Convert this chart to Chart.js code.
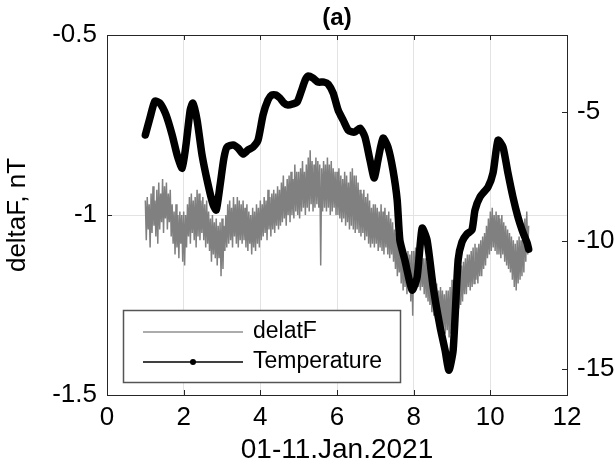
<!DOCTYPE html>
<html>
<head>
<meta charset="utf-8">
<script src="https://cdn.jsdelivr.net/npm/chart.js@4.4.1/dist/chart.umd.min.js"></script>
<style>
  html, body { margin: 0; padding: 0; background: #fff; }
  #wrap { width: 615px; height: 471px; }
</style>
</head>
<body>
<div id="wrap"><canvas id="deltaChart" width="615" height="471"></canvas></div>
<script>
// Tick values on the three axes
const xTickValues = [0, 2, 4, 6, 8, 10, 12];
const leftTickValues = [-1.5, -1, -0.5];
const rightTickValues = [-15, -10, -5];

// deltaF series, sampled every 0.025 day starting at day 1
const dfStart = 1;
const dfStep = 0.025;
const dfValues = [
    -0.96, -1.07, -0.95, -1.04, -0.97, -1.09, -0.94, -1.05, -0.92, -1.03, -0.96, -1.06, -0.93, -1.08, -0.91, -1.04, -0.94, -1.02, -0.90, -1.05,
    -0.92, -1.01, -0.91, -1.04, -0.94, -1.02, -0.93, -1.06, -0.97, -1.08, -0.99, -1.11, -0.97, -1.09, -1.00, -1.12, -0.99, -1.08, -1.00, -1.13,
    -0.99, -1.14, -1.00, -1.09, -0.97, -1.06, -0.95, -1.08, -0.94, -1.05, -0.96, -1.07, -0.95, -1.09, -0.93, -1.06, -0.94, -1.07, -0.96, -1.05,
    -0.95, -1.07, -0.97, -1.09, -0.96, -1.08, -0.99, -1.10, -1.01, -1.13, -1.00, -1.11, -1.02, -1.12, -1.01, -1.14, -1.03, -1.12, -1.02, -1.17,
    -1.01, -1.15, -1.03, -1.10, -1.00, -1.09, -0.97, -1.08, -0.96, -1.07, -0.98, -1.09, -0.95, -1.06, -0.97, -1.08, -0.95, -1.09, -0.96, -1.07,
    -0.97, -1.08, -0.96, -1.07, -0.98, -1.09, -0.97, -1.10, -0.99, -1.08, -1.00, -1.11, -0.98, -1.09, -0.99, -1.10, -0.97, -1.08, -0.98, -1.09,
    -0.96, -1.07, -0.97, -1.06, -0.95, -1.05, -0.96, -1.07, -0.93, -1.04, -0.95, -1.06, -0.94, -1.04, -0.93, -1.05, -0.94, -1.03, -0.92, -1.04,
    -0.93, -1.03, -0.91, -1.02, -0.89, -1.01, -0.92, -1.03, -0.90, -1.00, -0.89, -1.02, -0.88, -1.00, -0.90, -1.01, -0.86, -0.99, -0.88, -1.00,
    -0.88, -1.01, -0.87, -0.99, -0.85, -0.98, -0.88, -1.00, -0.86, -0.98, -0.84, -0.99, -0.82, -0.97, -0.85, -0.99, -0.86, -0.98, -0.84, -0.97,
    -0.85, -0.98, -0.86, -1.14, -0.87, -0.99, -0.85, -0.98, -0.86, -0.99, -0.84, -0.98, -0.86, -1.00, -0.85, -0.99, -0.87, -0.98, -0.88, -1.00,
    -0.88, -1.00, -0.87, -1.01, -0.89, -1.02, -0.90, -1.01, -0.88, -1.03, -0.89, -1.02, -0.91, -1.04, -0.88, -1.03, -0.87, -1.04, -0.89, -1.05,
    -0.89, -1.04, -0.91, -1.05, -0.93, -1.06, -0.94, -1.05, -0.93, -1.07, -0.95, -1.06, -0.94, -1.08, -0.96, -1.09, -0.98, -1.08, -0.97, -1.09,
    -0.97, -1.08, -0.98, -1.10, -0.99, -1.09, -0.97, -1.10, -0.99, -1.11, -0.98, -1.09, -1.00, -1.11, -0.99, -1.12, -1.01, -1.11, -1.02, -1.13,
    -1.04, -1.15, -1.05, -1.17, -1.07, -1.16, -1.08, -1.19, -1.09, -1.21, -1.10, -1.20, -1.11, -1.22, -1.10, -1.21, -1.11, -1.24, -1.10, -1.28,
    -1.10, -1.20, -1.09, -1.19, -1.11, -1.20, -1.10, -1.21, -1.11, -1.20, -1.12, -1.22, -1.12, -1.23, -1.13, -1.24, -1.15, -1.25, -1.16, -1.27,
    -1.17, -1.28, -1.18, -1.29, -1.19, -1.30, -1.21, -1.31, -1.20, -1.30, -1.21, -1.32, -1.22, -1.33, -1.21, -1.32, -1.21, -1.34, -1.20, -1.33,
    -1.18, -1.29, -1.18, -1.28, -1.17, -1.27, -1.16, -1.26, -1.15, -1.25, -1.14, -1.24, -1.13, -1.22, -1.12, -1.22, -1.11, -1.20, -1.11, -1.21,
    -1.10, -1.20, -1.09, -1.19, -1.08, -1.18, -1.09, -1.19, -1.08, -1.17, -1.07, -1.17, -1.06, -1.15, -1.05, -1.14, -1.03, -1.12, -1.01, -1.11,
    -0.99, -1.10, -0.98, -1.09, -1.00, -1.10, -0.99, -1.11, -1.00, -1.11, -1.01, -1.12, -1.00, -1.11, -1.02, -1.13, -1.03, -1.14, -1.04, -1.15,
    -1.05, -1.16, -1.06, -1.18, -1.07, -1.20, -1.08, -1.21, -1.07, -1.19, -1.06, -1.18, -1.07, -1.17, -1.05, -1.16, -1.01, -1.13, -0.99, -1.11,
    -1.03
];

// Temperature series (right axis)
const tempDays = [
    1.00, 1.12, 1.25, 1.38, 1.54, 1.70, 1.83, 1.96, 2.06, 2.17,
    2.24, 2.35, 2.48, 2.64, 2.77, 2.85, 2.95, 3.05, 3.13, 3.29,
    3.42, 3.55, 3.68, 3.81, 3.94, 4.07, 4.20, 4.30, 4.41, 4.51,
    4.62, 4.72, 4.85, 4.96, 5.06, 5.17, 5.24, 5.37, 5.50, 5.66,
    5.77, 5.90, 6.03, 6.16, 6.29, 6.39, 6.47, 6.60, 6.73, 6.86,
    6.97, 7.07, 7.20, 7.33, 7.46, 7.57, 7.64, 7.77, 7.96, 8.09,
    8.22, 8.35, 8.51, 8.69, 8.82, 8.92, 9.03, 9.16, 9.26, 9.39,
    9.52, 9.60, 9.73, 9.94, 10.07, 10.20, 10.33, 10.46, 10.59, 10.72,
    10.83, 10.96, 11.00
];
const tempValues = [
    -5.89, -5.23, -4.57, -4.65, -5.11, -5.89, -6.67, -7.18, -6.28, -4.92,
    -4.65, -5.31, -6.67, -7.84, -8.61, -8.81, -7.84, -6.79, -6.36, -6.28,
    -6.40, -6.63, -6.47, -6.36, -6.09, -5.11, -4.53, -4.33, -4.33, -4.45,
    -4.65, -4.72, -4.68, -4.61, -4.22, -3.75, -3.60, -3.67, -3.83, -3.83,
    -3.91, -4.26, -4.92, -5.31, -5.70, -5.77, -5.77, -5.62, -5.97, -6.86,
    -7.56, -6.86, -6.01, -6.36, -7.25, -8.42, -9.98, -10.75, -11.92, -11.42,
    -9.51, -9.98, -11.81, -13.36, -14.26, -15.04, -14.26, -10.75, -10.05, -9.74,
    -9.59, -8.81, -8.30, -7.91, -7.37, -6.09, -6.36, -7.37, -8.30, -9.08,
    -9.59, -10.09, -10.33
];

const axisColor = '#262626';
const gridColor = '#e3e3e3';
const fontFamily = "'Liberation Sans', Arial, sans-serif";

// Frame, inward ticks, title and legend drawn like the MATLAB figure
const matlabFrame = {
    id: 'matlabFrame',
    afterDraw(chart) {
        const ctx = chart.ctx;
        const a = chart.chartArea;
        const xs = chart.scales.x;
        const yl = chart.scales.y;
        const yr = chart.scales.y2;
        const tick = 5;

        ctx.save();
        ctx.strokeStyle = axisColor;
        ctx.lineWidth = 1;
        ctx.beginPath();
        xs.ticks.forEach(t => {
            const px = Math.round(xs.getPixelForValue(t.value)) + 0.5;
            ctx.moveTo(px, a.bottom); ctx.lineTo(px, a.bottom - tick);
            ctx.moveTo(px, a.top); ctx.lineTo(px, a.top + tick);
        });
        yl.ticks.forEach(t => {
            const py = Math.round(yl.getPixelForValue(t.value)) + 0.5;
            ctx.moveTo(a.left, py); ctx.lineTo(a.left + tick, py);
        });
        yr.ticks.forEach(t => {
            const py = Math.round(yr.getPixelForValue(t.value)) + 0.5;
            ctx.moveTo(a.right, py); ctx.lineTo(a.right - tick, py);
        });
        ctx.stroke();
        ctx.strokeRect(Math.round(a.left) + 0.5, Math.round(a.top) + 0.5,
            Math.round(a.right - a.left), Math.round(a.bottom - a.top));

        // title
        ctx.fillStyle = '#000';
        ctx.font = 'bold 24px ' + fontFamily;
        ctx.textAlign = 'center';
        ctx.textBaseline = 'middle';
        ctx.fillText('(a)', (a.left + a.right) / 2, 18);

        // legend box
        const bx = 123, by = 310, bw = 277, bh = 72;
        ctx.fillStyle = '#fff';
        ctx.fillRect(bx, by, bw, bh);
        ctx.strokeStyle = '#555';
        ctx.lineWidth = 1.5;
        ctx.strokeRect(bx + 0.5, by + 0.5, bw, bh);

        const ds = chart.data.datasets;
        ctx.font = '23px ' + fontFamily;
        ctx.textAlign = 'left';
        ctx.lineWidth = 1.5;

        ctx.strokeStyle = '#909090';
        ctx.beginPath(); ctx.moveTo(143, 332); ctx.lineTo(243, 332); ctx.stroke();
        ctx.fillStyle = '#000';
        ctx.fillText(ds[0].label, 253, 332);

        ctx.strokeStyle = '#000';
        ctx.beginPath(); ctx.moveTo(143, 362); ctx.lineTo(243, 362); ctx.stroke();
        ctx.beginPath(); ctx.arc(193, 362, 3, 0, Math.PI * 2); ctx.fill();
        ctx.fillText(ds[1].label, 253, 362);
        ctx.restore();
    }
};

function initDeltaChart() {
    const canvas = document.getElementById('deltaChart');
    const ctx = canvas.getContext('2d');

    const dfPoints = dfValues.map((v, i) => ({ x: dfStart + i * dfStep, y: v }));
    const tempPoints = tempValues.map((v, i) => ({ x: tempDays[i], y: v }));

    new Chart(ctx, {
        type: 'line',
        data: {
            datasets: [{
                label: 'delatF',
                data: dfPoints,
                yAxisID: 'y',
                borderColor: '#808080',
                borderWidth: 1.5,
                pointRadius: 0,
                tension: 0,
                order: 1
            }, {
                label: 'Temperature',
                data: tempPoints,
                yAxisID: 'y2',
                borderColor: '#000',
                borderWidth: 7.5,
                borderJoinStyle: 'round',
                borderCapStyle: 'round',
                pointRadius: 0,
                tension: 0.2,
                order: 0
            }]
        },
        options: {
            responsive: false,
            animation: false,
            events: [],
            layout: { padding: { top: 35, left: 0, right: 0, bottom: 0 } },
            plugins: {
                legend: { display: false },
                tooltip: { enabled: false },
                title: { display: false }
            },
            scales: {
                x: {
                    type: 'linear',
                    min: 0,
                    max: 12,
                    afterBuildTicks: s => { s.ticks = xTickValues.map(v => ({ value: v })); },
                    afterFit: s => { s.height = 76; },
                    grid: { color: gridColor, drawTicks: false },
                    border: { display: false },
                    ticks: {
                        padding: 7,
                        color: '#000',
                        font: { family: fontFamily, size: 26 },
                        callback: v => String(v)
                    },
                    title: {
                        display: true,
                        text: '01-11.Jan.2021',
                        color: '#000',
                        font: { family: fontFamily, size: 28 },
                        padding: { top: 0, bottom: 4 }
                    }
                },
                y: {
                    position: 'left',
                    min: -1.5,
                    max: -0.5,
                    afterBuildTicks: s => { s.ticks = leftTickValues.map(v => ({ value: v })); },
                    afterFit: s => { s.width = 107; },
                    grid: { color: gridColor, drawTicks: false },
                    border: { display: false },
                    ticks: {
                        padding: 10,
                        color: '#000',
                        font: { family: fontFamily, size: 26 },
                        callback: v => String(v)
                    },
                    title: {
                        display: true,
                        text: 'deltaF, nT',
                        color: '#000',
                        font: { family: fontFamily, size: 26 },
                        padding: { top: 2, bottom: 0 }
                    }
                },
                y2: {
                    position: 'right',
                    min: -16,
                    max: -2,
                    afterBuildTicks: s => { s.ticks = rightTickValues.map(v => ({ value: v })); },
                    afterFit: s => { s.width = 48; },
                    grid: { display: false, drawTicks: false },
                    border: { display: false },
                    ticks: {
                        padding: 10,
                        color: '#000',
                        font: { family: fontFamily, size: 26 },
                        callback: v => String(v)
                    }
                }
            }
        },
        plugins: [matlabFrame]
    });
}

document.addEventListener('DOMContentLoaded', initDeltaChart);
</script>
</body>
</html>
